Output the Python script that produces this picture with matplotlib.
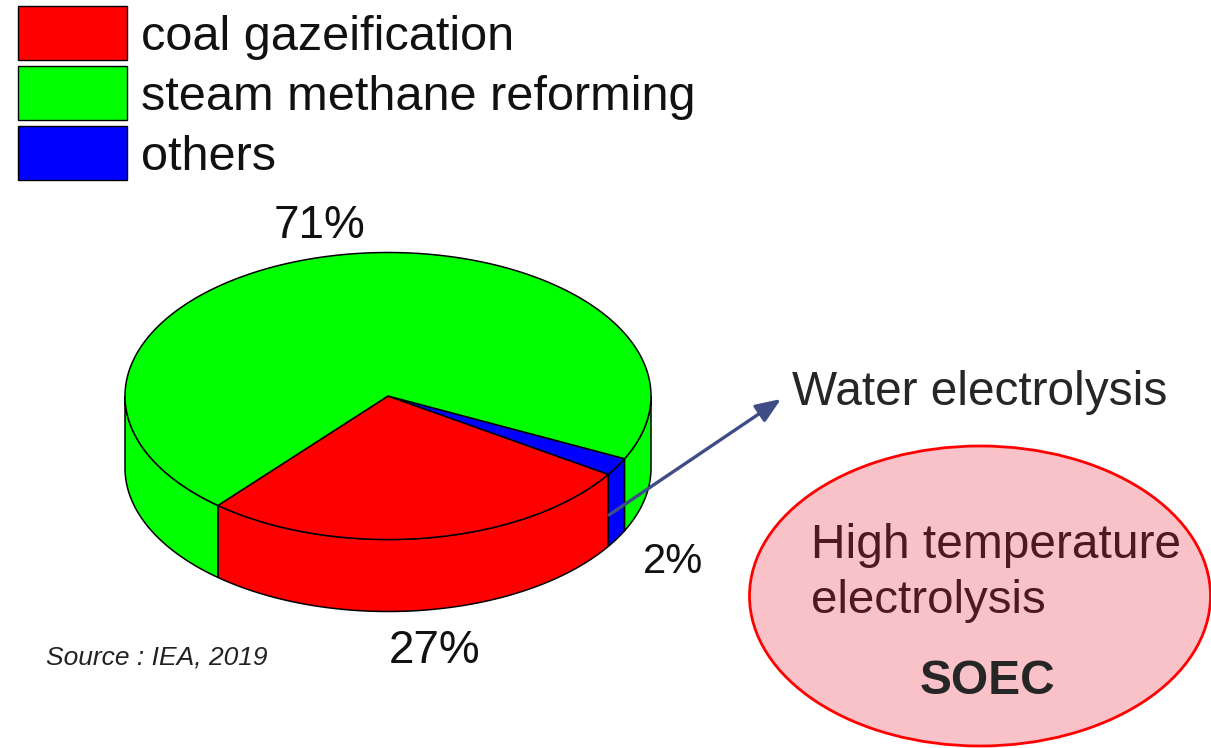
import numpy as np
import matplotlib
matplotlib.use("Agg")
import matplotlib.pyplot as plt
from matplotlib.patches import Ellipse, Polygon, Rectangle

plt.rcParams['font.family'] = ['Liberation Sans', 'DejaVu Sans']

# data
labels = ['coal gazeification', 'steam methane reforming', 'others']
shares = [27, 71, 2]
share_labels = ['27%', '71%', '2%']
colors = ['#ff0000', '#00ff00', '#0000ff']

# pie geometry, in pixels of the picture
cx, cy = 388, 396
rx, ry = 263, 143.5
depth = 72
start = 130.3  # angle of the left edge of the red slice, y pointing down

fig = plt.figure(figsize=(12.11, 7.48), dpi=100)
ax = fig.add_axes([0, 0, 1, 1])
ax.set_xlim(0, 1211)
ax.set_ylim(748, 0)
ax.axis('off')


def rim(t0, t1, dy=0):
    t = np.radians(np.linspace(t0, t1, 200))
    return np.column_stack([cx + rx * np.cos(t), cy + dy + ry * np.sin(t)])


# slices go clockwise on screen: coal, others, steam
order = [0, 2, 1]
edges = {}
a = start
for i in order:
    sweep = shares[i] * 3.6
    edges[i] = (a - sweep, a)
    a -= sweep

# side wall, only the front half (0..180) shows
for i in order:
    t0, t1 = edges[i]
    for lo, hi in [(t0, t1), (t0 + 360, t1 + 360)]:
        lo, hi = max(lo, 0), min(hi, 180)
        if lo < hi:
            top = rim(lo, hi)
            bottom = rim(lo, hi, depth)[::-1]
            ax.add_patch(Polygon(np.vstack([top, bottom]), closed=True, fc=colors[i],
                                 ec='black', lw=1.1, zorder=2))

# top face
for i in order:
    t0, t1 = edges[i]
    pts = np.vstack([[cx, cy], rim(t0, t1)])
    ax.add_patch(Polygon(pts, closed=True, fc=colors[i], ec='black', lw=1.1, zorder=3))

# legend
for i, (y, lab) in enumerate(zip([6, 66, 126], labels)):
    ax.add_patch(Rectangle((18, y), 109, 54, fc=colors[i], ec='black', lw=1, zorder=3))
    ax.text(141, y + 31, lab, fontsize=35, color='#111111', va='center', ha='left')

# percent labels
ax.text(435, 651, share_labels[0], fontsize=33, ha='center', va='center', color='#111111')
ax.text(319, 226, share_labels[1], fontsize=33, ha='center', va='center', color='#111111')
ax.text(673, 562, share_labels[2], fontsize=30, ha='center', va='center', color='#111111')

ax.text(46, 658, 'Source : IEA, 2019', fontsize=19, style='italic', ha='left', va='center',
        color='#222222')

# arrow
ax.annotate('', xy=(781, 399), xytext=(609, 515), zorder=5,
            arrowprops=dict(arrowstyle='-|>,head_length=0.8,head_width=0.32', color='#3f4d86',
                            lw=2.4, mutation_scale=19, shrinkA=0, shrinkB=0))
ax.text(792, 392, 'Water electrolysis', fontsize=34.4, ha='left', va='center', color='#262626')

# SOEC ellipse
ax.add_patch(Ellipse((980, 596), 461, 300, fc='#f9c2c8', ec='#ff0000', lw=2, zorder=2))
ax.text(811, 545, 'High temperature', fontsize=34.5, ha='left', va='center', color='#4d1a20', zorder=4)
ax.text(811, 601, 'electrolysis', fontsize=34.2, ha='left', va='center', color='#4d1a20', zorder=4)
ax.text(987, 682, 'SOEC', fontsize=34.5, weight='bold', ha='center', va='center', color='#262626', zorder=4)

fig.savefig('out.png', dpi=100)
